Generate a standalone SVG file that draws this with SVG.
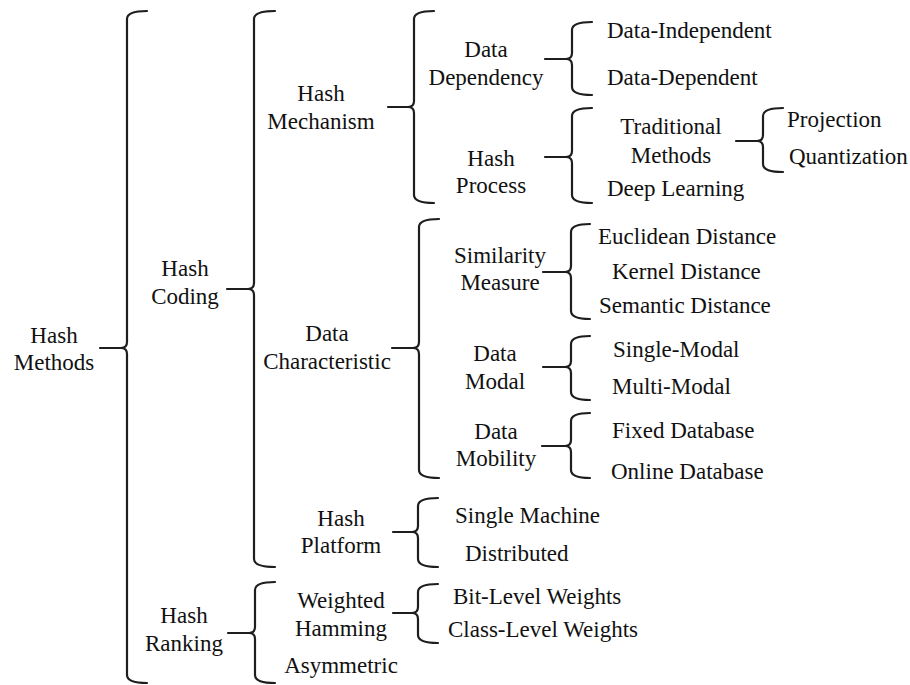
<svg xmlns="http://www.w3.org/2000/svg" width="910" height="685" viewBox="0 0 910 685">
<style>
.b{fill:none;stroke:#1e1e1e;stroke-width:2.2;stroke-linecap:round;stroke-linejoin:round}
.t text{font-size:23px;fill:#111}
.m{text-anchor:middle}
</style>
<rect width="910" height="685" fill="#fff"/>
<g id="connectors">
<path class="b" d="M147,11 Q127,11 127,19 V342 Q127,348 121,348 Q127,348 127,354 V675 Q127,683 147,683 M100,348 H121"/>
<path class="b" d="M275,11 Q254,11 254,19 V283 Q254,289 248,289 Q254,289 254,295 V559 Q254,567 275,567 M227,289 H248"/>
<path class="b" d="M275,582 Q255,582 255,590 V627 Q255,633 249,633 Q255,633 255,639 V675 Q255,683 275,683 M228,633 H249"/>
<path class="b" d="M434,11 Q414,11 414,19 V101 Q414,107 408,107 Q414,107 414,113 V195 Q414,203 434,203 M388,107 H408"/>
<path class="b" d="M592,22 Q572,22 572,30 V53 Q572,59 566,59 Q572,59 572,65 V87 Q572,95 592,95 M545,59 H566"/>
<path class="b" d="M592,108 Q572,108 572,116 V151 Q572,157 566,157 Q572,157 572,163 V195 Q572,203 592,203 M545,157 H566"/>
<path class="b" d="M783,108 Q763,108 763,116 V135 Q763,141 757,141 Q763,141 763,147 V164 Q763,172 783,172 M736,141 H757"/>
<path class="b" d="M439,219 Q419,219 419,227 V342 Q419,348 413,348 Q419,348 419,354 V470 Q419,478 439,478 M392,348 H413"/>
<path class="b" d="M590,224 Q571,224 571,232 V266 Q571,272 565,272 Q571,272 571,278 V311 Q571,319 590,319 M543,272 H565"/>
<path class="b" d="M590,336 Q571,336 571,344 V361 Q571,367 565,367 Q571,367 571,373 V392 Q571,400 590,400 M543,367 H565"/>
<path class="b" d="M590,413 Q571,413 571,421 V440 Q571,446 565,446 Q571,446 571,452 V470 Q571,478 590,478 M542,446 H565"/>
<path class="b" d="M438,498 Q418,498 418,506 V526 Q418,532 412,532 Q418,532 418,538 V559 Q418,567 438,567 M393,532 H412"/>
<path class="b" d="M438,584 Q418,584 418,592 V607 Q418,613 412,613 Q418,613 418,619 V635 Q418,643 438,643 M393,613 H412"/>
</g>
<g class="t" font-family="'Liberation Serif', 'DejaVu Serif', serif">
<g id="n-hash-methods"><text class="m" x="54" y="343">Hash</text><text class="m" x="54" y="370">Methods</text></g>
<g id="n-hash-coding"><text class="m" x="185" y="276">Hash</text><text class="m" x="185" y="304">Coding</text></g>
<g id="n-hash-ranking"><text class="m" x="184" y="623">Hash</text><text class="m" x="184" y="651">Ranking</text></g>
<g id="n-hash-mechanism"><text class="m" x="321" y="101">Hash</text><text class="m" x="321" y="129">Mechanism</text></g>
<g id="n-data-characteristic"><text class="m" x="327" y="341">Data</text><text class="m" x="327" y="369">Characteristic</text></g>
<g id="n-hash-platform"><text class="m" x="341" y="526">Hash</text><text class="m" x="341" y="553">Platform</text></g>
<g id="n-weighted-hamming"><text class="m" x="341" y="608">Weighted</text><text class="m" x="341" y="636">Hamming</text></g>
<g id="n-asymmetric"><text class="m" x="341" y="673">Asymmetric</text></g>
<g id="n-data-dependency"><text class="m" x="486" y="57">Data</text><text class="m" x="486" y="85">Dependency</text></g>
<g id="n-hash-process"><text class="m" x="491" y="166">Hash</text><text class="m" x="491" y="193">Process</text></g>
<g id="n-similarity-measure"><text class="m" x="500" y="263">Similarity</text><text class="m" x="500" y="290">Measure</text></g>
<g id="n-data-modal"><text class="m" x="495" y="361">Data</text><text class="m" x="495" y="389">Modal</text></g>
<g id="n-data-mobility"><text class="m" x="496" y="439">Data</text><text class="m" x="496" y="466">Mobility</text></g>
<g id="n-data-independent"><text x="607" y="38">Data-Independent</text></g>
<g id="n-data-dependent"><text x="607" y="85">Data-Dependent</text></g>
<g id="n-traditional-methods"><text class="m" x="671" y="134">Traditional</text><text class="m" x="671" y="163">Methods</text></g>
<g id="n-deep-learning"><text x="607" y="196">Deep Learning</text></g>
<g id="n-projection"><text x="787" y="127">Projection</text></g>
<g id="n-quantization"><text x="789" y="164">Quantization</text></g>
<g id="n-euclidean"><text x="598" y="244">Euclidean Distance</text></g>
<g id="n-kernel"><text x="612" y="279">Kernel Distance</text></g>
<g id="n-semantic"><text x="599" y="313">Semantic Distance</text></g>
<g id="n-single-modal"><text x="613" y="357">Single-Modal</text></g>
<g id="n-multi-modal"><text x="612" y="394">Multi-Modal</text></g>
<g id="n-fixed-db"><text x="612" y="438">Fixed Database</text></g>
<g id="n-online-db"><text x="611" y="479">Online Database</text></g>
<g id="n-single-machine"><text x="455" y="523">Single Machine</text></g>
<g id="n-distributed"><text x="465" y="561">Distributed</text></g>
<g id="n-bit-level"><text x="453" y="604">Bit-Level Weights</text></g>
<g id="n-class-level"><text x="448" y="637">Class-Level Weights</text></g>
</g>
</svg>
